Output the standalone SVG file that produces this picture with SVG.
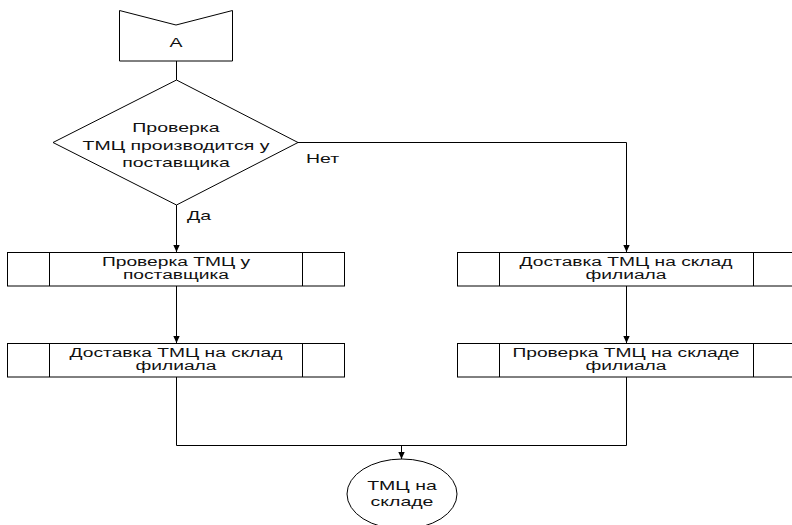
<svg xmlns="http://www.w3.org/2000/svg" width="792" height="525" viewBox="0 0 792 525">
<style>
.s{fill:#fff;stroke:#000;stroke-width:1}
.c{fill:none;stroke:#000;stroke-width:1}
.t{font-family:"Liberation Sans",Arial,sans-serif;font-size:13px;text-anchor:middle;fill:#111}
.b{font-family:"Liberation Sans",Arial,sans-serif;font-size:12px;text-anchor:middle;fill:#111}
.l{font-family:"Liberation Sans",Arial,sans-serif;font-size:13px;text-anchor:start;fill:#111}
</style>
<defs>
<marker id="ar" markerWidth="8" markerHeight="8" refX="7" refY="4" orient="auto" markerUnits="userSpaceOnUse">
<path d="M0,0.8 L7,4 L0,7.2 Z" fill="#000"/>
</marker>
</defs>
<rect width="792" height="525" fill="#fff"/>
<g id="connectors">
<path class="c" d="M176.5,61 V80"/>
<path class="c" d="M176.5,205 V252" marker-end="url(#ar)"/>
<path class="c" d="M298,142.5 H626.5 V252" marker-end="url(#ar)"/>
<path class="c" d="M176.5,286 V343" marker-end="url(#ar)"/>
<path class="c" d="M626.5,286 V343" marker-end="url(#ar)"/>
<path class="c" d="M176.5,377 V445.5 H626.5 V377"/>
<path class="c" d="M401.5,445.5 V459" marker-end="url(#ar)"/>
<text class="l" transform="translate(187 0) scale(1.5 1)" x="0" y="220">Да</text>
<text class="l" transform="translate(306 0) scale(1.5 1)" x="0" y="163">Нет</text>
</g>
<g id="offpage">
<path class="s" d="M119.5,10.5 L176,25 L232.5,10.5 V61 H119.5 Z"/>
<text class="t" transform="translate(176 0) scale(1.5 1)" x="0" y="47">A</text>
</g>
<g id="decision">
<path class="s" d="M176.5,80 L298,142.5 L176.5,205 L53,142.5 Z"/>
<text class="t" transform="translate(176 0) scale(1.5 1)" x="0" y="132">Проверка</text>
<text class="t" transform="translate(176 0) scale(1.5 1)" x="0" y="150">ТМЦ производится у</text>
<text class="t" transform="translate(176 0) scale(1.5 1)" x="0" y="167">поставщика</text>
</g>
<g id="check-supplier">
<rect class="s" x="7.5" y="252.5" width="337" height="33.5"/>
<path class="c" d="M49.5,252.5 V286 M302.5,252.5 V286"/>
<text class="b" transform="translate(176 0) scale(1.6 1)" x="0" y="266">Проверка ТМЦ у</text>
<text class="b" transform="translate(176 0) scale(1.6 1)" x="0" y="279.5">поставщика</text>
</g>
<g id="deliver-left">
<rect class="s" x="7.5" y="343.5" width="337" height="33.5"/>
<path class="c" d="M49.5,343.5 V377 M302.5,343.5 V377"/>
<text class="b" transform="translate(176 0) scale(1.6 1)" x="0" y="357">Доставка ТМЦ на склад</text>
<text class="b" transform="translate(176 0) scale(1.6 1)" x="0" y="370.5">филиала</text>
</g>
<g id="deliver-right">
<rect class="s" x="457.5" y="252.5" width="337" height="33.5"/>
<path class="c" d="M499.5,252.5 V286 M753.5,252.5 V286"/>
<text class="b" transform="translate(626 0) scale(1.6 1)" x="0" y="266">Доставка ТМЦ на склад</text>
<text class="b" transform="translate(626 0) scale(1.6 1)" x="0" y="279.5">филиала</text>
</g>
<g id="check-warehouse">
<rect class="s" x="457.5" y="343.5" width="337" height="33.5"/>
<path class="c" d="M499.5,343.5 V377 M753.5,343.5 V377"/>
<text class="b" transform="translate(626 0) scale(1.6 1)" x="0" y="357">Проверка ТМЦ на складе</text>
<text class="b" transform="translate(626 0) scale(1.6 1)" x="0" y="370.5">филиала</text>
</g>
<g id="end">
<ellipse class="s" cx="402" cy="494" rx="55" ry="35"/>
<text class="t" transform="translate(402 0) scale(1.5 1)" x="0" y="490">ТМЦ на</text>
<text class="t" transform="translate(402 0) scale(1.5 1)" x="0" y="506">складе</text>
</g>
</svg>
